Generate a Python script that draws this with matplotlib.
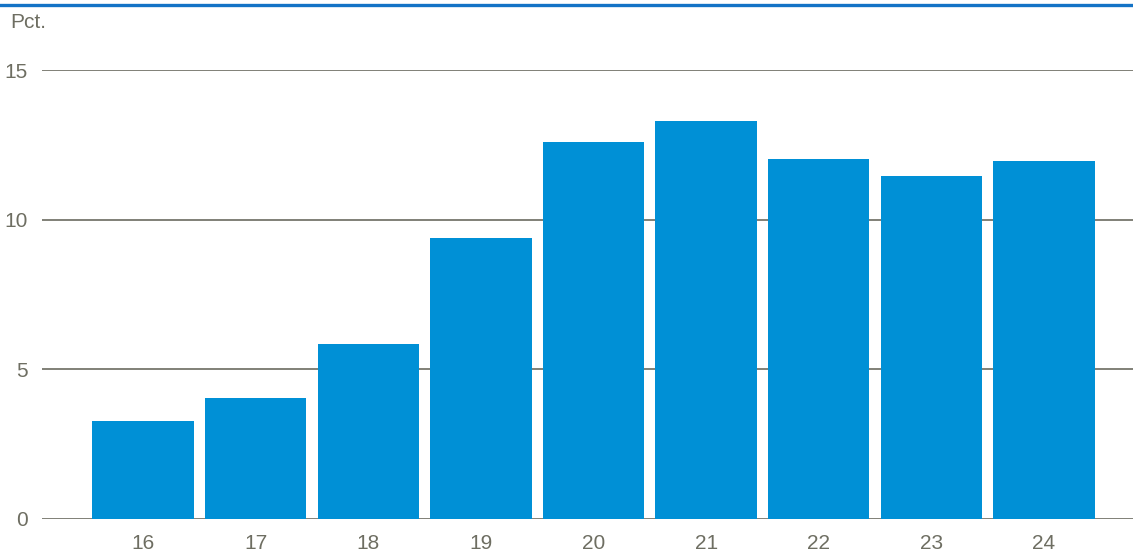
import matplotlib
matplotlib.use("Agg")
import matplotlib.pyplot as plt
from matplotlib.lines import Line2D

years = [16, 17, 18, 19, 20, 21, 22, 23, 24]
values = [3.27, 4.04, 5.85, 9.39, 12.6, 13.3, 12.03, 11.46, 11.96]
yticks = [0, 5, 10, 15]

plt.rcParams['font.family'] = ['Liberation Sans', 'DejaVu Sans']
text_col = '#6e6e62'

fig = plt.figure(figsize=(11.33, 5.58), dpi=100)
ax = fig.add_axes([42 / 1133, 39 / 558, 1 - 42 / 1133, 449 / 558])

ax.bar(years, values, width=0.9, color='#0090d6', zorder=3)

ax.set_ylim(0, 15)
ax.set_xlim(15.103, 24.79)
ax.set_yticks(yticks)
ax.set_xticks(years)
ax.set_xticklabels([str(y) for y in years])
ax.yaxis.grid(True, color='#76766c', linewidth=1.3, zorder=1)
ax.set_axisbelow(True)
for s in ax.spines.values():
    s.set_visible(False)
ax.tick_params(axis='both', length=0, labelsize=15, colors=text_col)
ax.tick_params(axis='y', pad=10)
ax.tick_params(axis='x', pad=11)

fig.text(10 / 1133, 1 - 23 / 558, 'Pct.', fontsize=15, color=text_col, va='center', ha='left')
fig.add_artist(Line2D([0, 1], [1 - 4.5 / 558, 1 - 4.5 / 558], color='#1473c6', linewidth=2.4,
                      transform=fig.transFigure))

fig.savefig('out.png', dpi=100)
